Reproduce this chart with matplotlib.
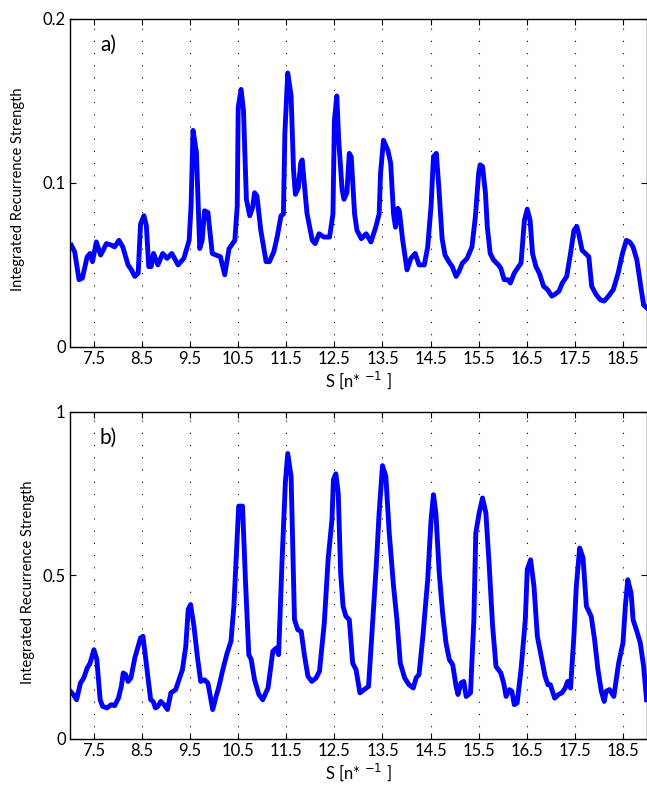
import matplotlib
matplotlib.use("Agg")
import matplotlib.pyplot as plt

# --- data ---
s_a = [7.03, 7.10, 7.19, 7.26, 7.36, 7.42, 7.47, 7.55, 7.64, 7.76, 7.87, 7.93,
       8.02, 8.10, 8.21, 8.28, 8.35, 8.42, 8.47, 8.54, 8.59, 8.64, 8.69, 8.74,
       8.83, 8.93, 9.02, 9.12, 9.25, 9.37, 9.48, 9.52, 9.56, 9.63, 9.70, 9.75,
       9.80, 9.87, 9.96, 10.04, 10.13, 10.22, 10.31, 10.43, 10.48, 10.50, 10.56,
       10.61, 10.67, 10.74, 10.80, 10.84, 10.89, 10.97, 11.08, 11.15, 11.24,
       11.31, 11.39, 11.44, 11.47, 11.53, 11.60, 11.65, 11.69, 11.75, 11.80,
       11.83, 11.93, 12.04, 12.10, 12.18, 12.28, 12.40, 12.47, 12.50, 12.55,
       12.59, 12.66, 12.70, 12.76, 12.81, 12.85, 12.92, 12.97, 13.06, 13.16,
       13.26, 13.36, 13.43, 13.46, 13.52, 13.61, 13.67, 13.73, 13.77, 13.82,
       13.85, 13.92, 14.01, 14.09, 14.18, 14.26, 14.37, 14.44, 14.51, 14.56,
       14.62, 14.67, 14.74, 14.80, 14.88, 14.95, 15.03, 15.09, 15.16, 15.26,
       15.36, 15.43, 15.50, 15.53, 15.58, 15.64, 15.68, 15.74, 15.81, 15.91,
       15.96, 16.03, 16.11, 16.16, 16.24, 16.33, 16.38, 16.45, 16.51, 16.57,
       16.62, 16.69, 16.76, 16.85, 16.93, 17.02, 17.08, 17.17, 17.24, 17.33,
       17.41, 17.48, 17.54, 17.58, 17.65, 17.72, 17.79, 17.85, 17.94, 18.03,
       18.11, 18.20, 18.30, 18.40, 18.49, 18.57, 18.64, 18.71, 18.79, 18.88,
       18.93, 18.99]
irs_a = [0.062, 0.058, 0.041, 0.042, 0.055, 0.057, 0.052, 0.064, 0.056, 0.063,
         0.062, 0.061, 0.065, 0.061, 0.050, 0.047, 0.043, 0.045, 0.075, 0.080,
         0.074, 0.049, 0.049, 0.057, 0.050, 0.057, 0.054, 0.057, 0.050, 0.054,
         0.065, 0.086, 0.132, 0.119, 0.060, 0.065, 0.083, 0.082, 0.057, 0.056,
         0.055, 0.044, 0.060, 0.065, 0.086, 0.146, 0.157, 0.144, 0.090, 0.080,
         0.085, 0.094, 0.092, 0.071, 0.052, 0.052, 0.058, 0.067, 0.080, 0.081,
         0.130, 0.167, 0.153, 0.108, 0.093, 0.097, 0.112, 0.114, 0.0815, 0.065,
         0.063, 0.069, 0.067, 0.067, 0.081, 0.138, 0.153, 0.126, 0.096, 0.090,
         0.094, 0.118, 0.116, 0.081, 0.071, 0.066, 0.069, 0.064, 0.073, 0.081,
         0.106, 0.126, 0.120, 0.112, 0.081, 0.073, 0.0845, 0.083, 0.065, 0.047,
         0.054, 0.057, 0.050, 0.050, 0.061, 0.086, 0.116, 0.118, 0.098, 0.066,
         0.056, 0.052, 0.049, 0.043, 0.046, 0.051, 0.054, 0.061, 0.079, 0.106,
         0.111, 0.110, 0.094, 0.073, 0.057, 0.053, 0.050, 0.048, 0.041, 0.041,
         0.039, 0.045, 0.049, 0.051, 0.077, 0.084, 0.077, 0.057, 0.049, 0.045,
         0.037, 0.035, 0.031, 0.032, 0.034, 0.039, 0.043, 0.057, 0.071, 0.0735,
         0.069, 0.059, 0.057, 0.055, 0.037, 0.032, 0.0287, 0.028, 0.031, 0.035,
         0.045, 0.057, 0.065, 0.064, 0.061, 0.053, 0.035, 0.0256, 0.024]

s_b = [7.01, 7.07, 7.14, 7.22, 7.29, 7.36, 7.42, 7.50, 7.56, 7.63, 7.68, 7.77,
       7.86, 7.93, 8.01, 8.07, 8.11, 8.16, 8.21, 8.27, 8.35, 8.42, 8.47, 8.52,
       8.57, 8.63, 8.68, 8.73, 8.78, 8.83, 8.89, 8.96, 9.03, 9.10, 9.20, 9.27,
       9.34, 9.41, 9.46, 9.51, 9.58, 9.65, 9.72, 9.80, 9.87, 9.97, 10.04, 10.10,
       10.18, 10.27, 10.35, 10.41, 10.47, 10.51, 10.59, 10.65, 10.72, 10.77,
       10.84, 10.93, 11.01, 11.12, 11.22, 11.29, 11.34, 11.41, 11.48, 11.53,
       11.60, 11.67, 11.74, 11.81, 11.88, 11.95, 12.03, 12.12, 12.19, 12.29,
       12.37, 12.45, 12.48, 12.53, 12.58, 12.63, 12.68, 12.74, 12.81, 12.88,
       12.95, 13.03, 13.12, 13.21, 13.30, 13.37, 13.43, 13.50, 13.57, 13.64,
       13.73, 13.80, 13.87, 13.96, 14.05, 14.14, 14.20, 14.26, 14.34, 14.44,
       14.51, 14.56, 14.61, 14.68, 14.75, 14.82, 14.89, 14.96, 15.03, 15.07,
       15.13, 15.19, 15.24, 15.33, 15.40, 15.44, 15.51, 15.58, 15.65, 15.72,
       15.79, 15.86, 15.96, 16.02, 16.07, 16.14, 16.19, 16.24, 16.30, 16.38,
       16.47, 16.51, 16.58, 16.65, 16.72, 16.80, 16.88, 16.94, 16.99, 17.08,
       17.16, 17.23, 17.30, 17.35, 17.41, 17.48, 17.53, 17.60, 17.67, 17.74,
       17.84, 17.91, 17.98, 18.05, 18.11, 18.15, 18.22, 18.31, 18.36, 18.41,
       18.50, 18.55, 18.60, 18.67, 18.71, 18.79, 18.86, 18.93, 18.99]
irs_b = [0.146, 0.136, 0.120, 0.171, 0.187, 0.217, 0.232, 0.273, 0.243, 0.120,
         0.100, 0.095, 0.105, 0.102, 0.125, 0.161, 0.202, 0.197, 0.176, 0.187,
         0.248, 0.283, 0.309, 0.314, 0.253, 0.181, 0.120, 0.115, 0.095, 0.100,
         0.115, 0.105, 0.090, 0.141, 0.151, 0.181, 0.212, 0.283, 0.396, 0.411,
         0.345, 0.253, 0.176, 0.181, 0.171, 0.090, 0.130, 0.161, 0.212, 0.263,
         0.299, 0.406, 0.589, 0.712, 0.712, 0.487, 0.258, 0.243, 0.181, 0.136,
         0.120, 0.156, 0.268, 0.278, 0.258, 0.538, 0.783, 0.873, 0.803, 0.365,
         0.334, 0.329, 0.253, 0.192, 0.176, 0.187, 0.207, 0.355, 0.550, 0.671,
         0.793, 0.811, 0.752, 0.508, 0.406, 0.375, 0.365, 0.232, 0.212, 0.141,
         0.151, 0.161, 0.365, 0.528, 0.691, 0.836, 0.803, 0.630, 0.467, 0.365,
         0.232, 0.187, 0.166, 0.156, 0.187, 0.197, 0.314, 0.487, 0.671, 0.747,
         0.691, 0.508, 0.385, 0.294, 0.243, 0.227, 0.161, 0.136, 0.171, 0.176,
         0.130, 0.141, 0.365, 0.630, 0.691, 0.737, 0.691, 0.528, 0.345, 0.222,
         0.202, 0.171, 0.130, 0.151, 0.146, 0.105, 0.110, 0.212, 0.365, 0.518,
         0.548, 0.467, 0.314, 0.253, 0.192, 0.166, 0.166, 0.125, 0.136, 0.141,
         0.156, 0.176, 0.156, 0.314, 0.467, 0.584, 0.554, 0.406, 0.375, 0.304,
         0.212, 0.146, 0.115, 0.146, 0.151, 0.130, 0.181, 0.232, 0.294, 0.406,
         0.487, 0.446, 0.365, 0.329, 0.294, 0.222, 0.120]

x_ticks = [7.5, 8.5, 9.5, 10.5, 11.5, 12.5, 13.5, 14.5, 15.5, 16.5, 17.5, 18.5]
x_ticklabels = ["7.5", "8.5", "9.5", "10.5", "11.5", "12.5", "13.5", "14.5",
                "15.5", "16.5", "17.5", "18.5"]
y_ticks_a = [0, 0.1, 0.2]
y_ticklabels_a = ["0", "0.1", "0.2"]
y_ticks_b = [0, 0.5, 1]
y_ticklabels_b = ["0", "0.5", "1"]

plt.rcParams["font.family"] = ["Lato", "DejaVu Sans"]

fig = plt.figure(figsize=(6.47, 7.85), dpi=100)
ax_a = fig.add_axes([0.108, 0.558, 0.892, 0.418])
ax_b = fig.add_axes([0.108, 0.0586, 0.892, 0.4166])

# axes, x, y, yticks, yticklabels, ylim, panel tag, ylabel x (axes coords)
panels = [
    (ax_a, s_a, irs_a, y_ticks_a, y_ticklabels_a, (0, 0.2), "a)", -0.078),
    (ax_b, s_b, irs_b, y_ticks_b, y_ticklabels_b, (0, 1), "b)", -0.060),
]

for ax, s, irs, yt, ytl, ylim, tag, lx in panels:
    ax.plot(s, irs, color="#0000ff", linewidth=3.5, solid_joinstyle="round")
    ax.set_xlim(7, 19)
    ax.set_ylim(*ylim)
    ax.set_xticks(x_ticks)
    ax.set_xticklabels(x_ticklabels)
    ax.set_yticks(yt)
    ax.set_yticklabels(ytl)
    ax.tick_params(direction="in", top=True, right=True, labelsize=12,
                   length=4, width=0.8, pad=3)
    ax.grid(axis="x", color="black", linestyle=(0, (1, 10)), linewidth=0.8)
    for sp in ax.spines.values():
        sp.set_linewidth(1.0)
    ax.set_xlabel(r"S [n* $^{-1}$ ]", fontsize=12, labelpad=2)
    ax.set_ylabel("Integrated Recurrence Strength", fontsize=10.5)
    ax.yaxis.set_label_coords(lx, 0.48)
    ax.text(0.052, 0.92, tag, transform=ax.transAxes, fontsize=15,
            va="center", ha="left")

fig.savefig("out.png", dpi=100)
